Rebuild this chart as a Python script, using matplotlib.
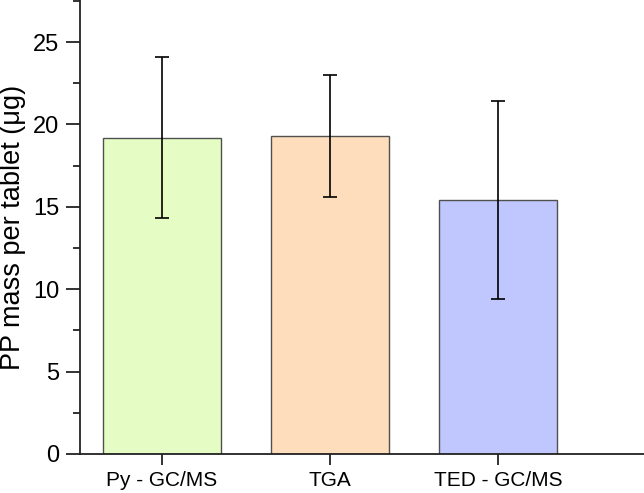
import matplotlib
matplotlib.use("Agg")
import matplotlib.pyplot as plt
from matplotlib.ticker import MultipleLocator

categories = ["Py - GC/MS", "TGA", "TED - GC/MS"]
values = [19.2, 19.3, 15.4]
errors = [4.9, 3.7, 6.0]
colors = ["#E5FDC4", "#FEDDBC", "#BFC7FE"]

plt.rcParams['font.family'] = ['Liberation Sans', 'DejaVu Sans']

fig = plt.figure(figsize=(6.44, 4.93), dpi=100)
ax = fig.add_axes([80/644, 39/493, 1 - 80/644, 454/493])

x = list(range(len(categories)))
ax.bar(x, values, width=0.7, color=colors, edgecolor="#505050", linewidth=1.0, zorder=2)
ax.errorbar(x, values, yerr=errors, fmt="none", ecolor="black", elinewidth=1.2,
            capsize=5, capthick=1.2, zorder=3)

ax.set_xlim(-0.487, 2.87)
ax.set_ylim(0, 27.55)
ax.set_xticks(x)
ax.set_xticklabels(categories)
ax.yaxis.set_major_locator(MultipleLocator(5))
ax.yaxis.set_minor_locator(MultipleLocator(2.5))
ax.set_ylabel("PP mass per tablet (μg)", fontsize=19.5, labelpad=5)

for s in ["top", "right"]:
    ax.spines[s].set_visible(False)
for s in ["left", "bottom"]:
    ax.spines[s].set_linewidth(1.3)
    ax.spines[s].set_color("#222222")

ax.tick_params(axis="y", which="major", direction="out", length=10, width=1.3, labelsize=17, pad=5, colors="#222222", labelcolor="black")
ax.tick_params(axis="y", which="minor", direction="out", length=5, width=1.3, colors="#222222")
ax.tick_params(axis="x", which="major", direction="out", length=8, width=1.3, labelsize=15, pad=4, colors="#222222", labelcolor="black")

fig.savefig("out.png", dpi=100)
